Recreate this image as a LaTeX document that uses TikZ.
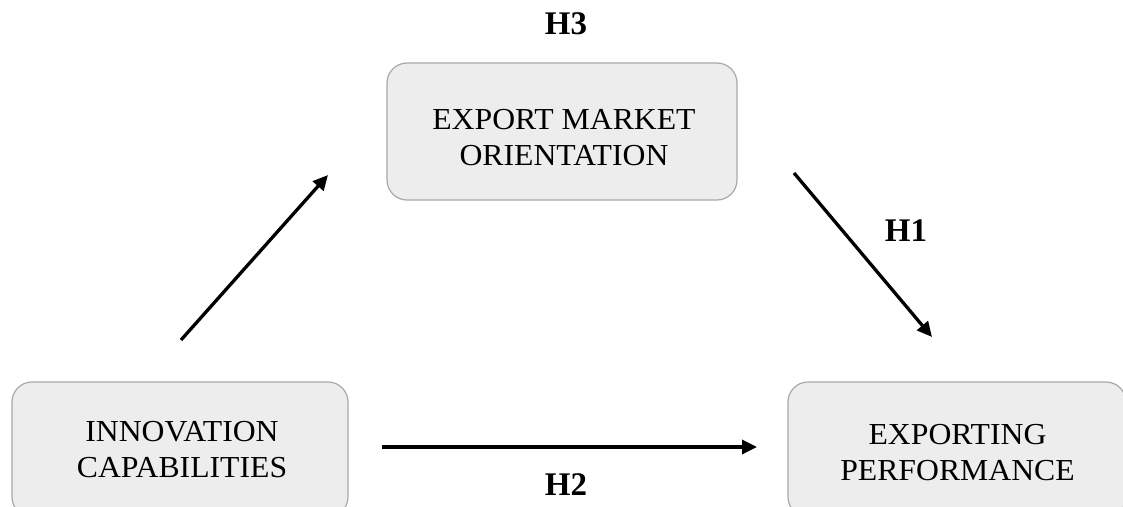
\documentclass[tikz,border=0pt]{standalone}
\usepackage{fontspec}
\setmainfont{Liberation Serif}
\usetikzlibrary{arrows.meta}
\definecolor{boxfill}{HTML}{EDEDED}
\definecolor{boxline}{HTML}{A8A8A8}
\begin{document}
\begin{tikzpicture}[x=1pt,y=-1pt,
  box/.style={draw=boxline, fill=boxfill, line width=1.2pt, rounded corners=20pt, inner sep=0pt},
  boxtext/.style={font=\fontsize{30.5}{36}\selectfont, align=center, inner sep=0pt},
  hyp/.style={font=\fontsize{33}{36}\selectfont\bfseries, inner sep=0pt, anchor=base},
  link/.style={line width=3.3pt, -{Triangle[length=15pt,width=14pt]}}]

\useasboundingbox (0,0) rectangle (1123,506);
\clip (0,0) rectangle (1123,506);

% constructs
\node[box, minimum width=350pt, minimum height=137pt] (emo) at (562,131.5) {};
\node[boxtext] (emotext) at (564,137.8) {\scalebox{1.04}[1]{EXPORT MARKET}\\\scalebox{1.04}[1]{ORIENTATION}};

\node[box, minimum width=336pt, minimum height=135pt] (inno) at (180,449.5) {};
\node[boxtext] (innotext) at (182,449.7) {\scalebox{1.04}[1]{INNOVATION}\\\scalebox{1.04}[1]{CAPABILITIES}};

\node[box, minimum width=338pt, minimum height=135pt] (perf) at (957,449.5) {};
\node[boxtext] (perftext) at (957.5,452.5) {\scalebox{1.04}[1]{EXPORTING}\\\scalebox{1.04}[1]{PERFORMANCE}};

% path end points
\coordinate (a1s) at (181,340);
\coordinate (a1e) at (328,175);
\coordinate (a2s) at (794,173);
\coordinate (a2e) at (932,337);
\coordinate (a3s) at (382,447);
\coordinate (a3e) at (757,447);

\draw[link] (a1s) -- (a1e);
\draw[link] (a2s) -- (a2e);
\draw[link] (a3s) -- (a3e);

% hypotheses
\node[hyp] (h3) at (566,34) {H3};
\node[hyp] (h1) at (906,241) {H1};
\node[hyp] (h2) at (566,495) {H2};
\end{tikzpicture}
\end{document}
